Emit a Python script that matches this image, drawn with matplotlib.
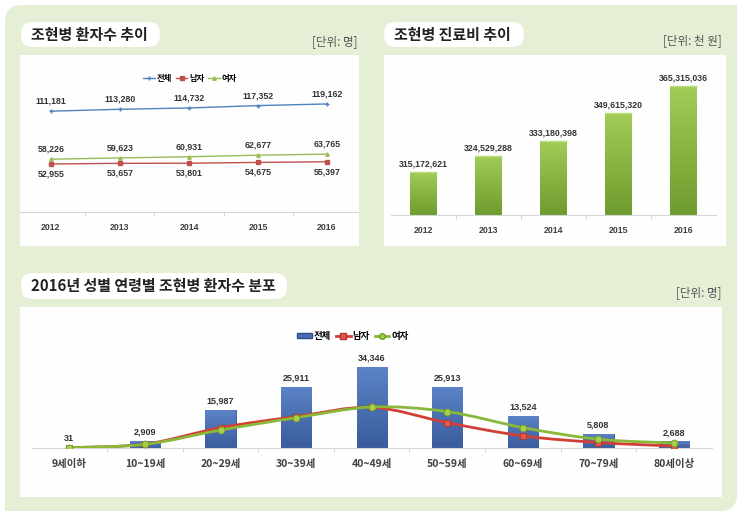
import numpy as np
import matplotlib
matplotlib.use("Agg")
import matplotlib.pyplot as plt
from matplotlib.patches import FancyBboxPatch, Rectangle, PathPatch, Patch
from matplotlib.path import Path
from matplotlib.lines import Line2D

plt.rcParams['font.family'] = ['Noto Sans CJK KR', 'DejaVu Sans']

# ---- data ----
years = ['2012', '2013', '2014', '2015', '2016']
patients_total = [111181, 113280, 114732, 117352, 119162]
patients_male = [52955, 53657, 53801, 54675, 55397]
patients_female = [58226, 59623, 60931, 62677, 63765]

cost = [315172621, 324529288, 333180398, 349615320, 365315036]
cost_base = 290000000  # bar axis does not start at zero

age_groups = ['9세이하', '10~19세', '20~29세', '30~39세', '40~49세',
              '50~59세', '60~69세', '70~79세', '80세이상']
age_total = [31, 2909, 15987, 25911, 34346, 25913, 13524, 5808, 2688]
age_male = [15, 1500, 8500, 13200, 17100, 10600, 5000, 2200, 700]
age_female = [16, 1409, 7487, 12711, 17246, 15313, 8524, 3608, 1988]

W, H = 743, 516
BG = '#e5efd6'
NUM = ['Liberation Sans', 'DejaVu Sans']
TXT = '#333333'


def px(x0, y0, x1, y1):
    return [x0 / W, 1 - y1 / H, (x1 - x0) / W, (y1 - y0) / H]


def smooth(xs, ys):
    pts = list(zip(xs, ys))
    verts, codes = [pts[0]], [Path.MOVETO]
    for i in range(len(pts) - 1):
        p0 = pts[i - 1] if i > 0 else pts[i]
        p1, p2 = pts[i], pts[i + 1]
        p3 = pts[i + 2] if i + 2 < len(pts) else p2
        c1 = (p1[0] + (p2[0] - p0[0]) / 6, p1[1] + (p2[1] - p0[1]) / 6)
        c2 = (p2[0] - (p3[0] - p1[0]) / 6, p2[1] - (p3[1] - p1[1]) / 6)
        verts += [c1, c2, p2]
        codes += [Path.CURVE4] * 3
    return Path(verts, codes)


def gradient_bars(ax, bars, top, bottom):
    grad = np.linspace(0, 1, 64).reshape(-1, 1)
    c0, c1 = np.array(matplotlib.colors.to_rgb(top)), np.array(matplotlib.colors.to_rgb(bottom))
    img = c0 + (c1 - c0) * grad[:, :, None]
    for b in bars:
        x0, y0 = b.get_x(), b.get_y()
        im = ax.imshow(img, extent=[x0, x0 + b.get_width(), y0, y0 + b.get_height()],
                       origin='upper', aspect='auto', zorder=b.get_zorder(), interpolation='bilinear')
        im.set_clip_path(b)


fig = plt.figure(figsize=(W / 100, H / 100), dpi=100)
bg = fig.add_axes([0, 0, 1, 1])
bg.set_xlim(0, W)
bg.set_ylim(H, 0)
bg.axis('off')

# green panel (rounded top-left and bottom-right)
bg.add_patch(FancyBboxPatch((5, 5), 732, 506, boxstyle='round,pad=0,rounding_size=17',
                            fc=BG, ec='none'))
bg.add_patch(Rectangle((700, 5), 37, 40, fc=BG, ec='none'))
bg.add_patch(Rectangle((5, 470), 40, 41, fc=BG, ec='none'))

# white plot areas
for x0, y0, x1, y1 in [(20, 55, 359, 246), (384, 55, 726, 246), (20, 307, 722, 497)]:
    bg.add_patch(Rectangle((x0, y0), x1 - x0, y1 - y0, fc='#fefefe', ec='none'))

# title pills
for x0, y0, x1, y1, title in [(21, 22, 160, 47, '조현병 환자수 추이'),
                              (384, 22, 524, 47, '조현병 진료비 추이'),
                              (21, 273, 287, 299, '2016년 성별 연령별 조현병 환자수 분포')]:
    bg.add_patch(FancyBboxPatch((x0, y0), x1 - x0, y1 - y0,
                                boxstyle='round,pad=0,rounding_size=12', fc='white', ec='none'))
    bg.text(x0 + 10, (y0 + y1) / 2 + 0.5, title, fontsize=10.8, weight='bold',
            color='#222222', ha='left', va='center')

for x, y, s in [(358, 42, '[단위: 명]'), (722, 42, '[단위: 천 원]'), (722, 293, '[단위: 명]')]:
    bg.text(x, y, s, fontsize=8.3, color='#555555', ha='right', va='center')

# ---- top-left: patients trend ----
ax1 = fig.add_axes(px(20, 70, 358, 212))
ax1.set_facecolor('none')
xi = np.arange(len(years))
ax1.plot(xi, patients_total, color='#4f81bd', lw=1.0, marker='+', ms=3, mew=1, label='전체')
ax1.plot(xi, patients_male, color='#c0504d', lw=1.0, marker='s', ms=2.5, label='남자')
ax1.plot(xi, patients_female, color='#9bbb59', lw=1.0, marker='^', ms=2.5, label='여자')
for i in xi:
    ax1.annotate(f'{patients_total[i]:,}', (i, patients_total[i]), xytext=(0, 4),
                 textcoords='offset points', ha='center', va='bottom', fontsize=6.3,
                 weight='bold', family=NUM, color=TXT)
    ax1.annotate(f'{patients_female[i]:,}', (i, patients_female[i]), xytext=(0, 4),
                 textcoords='offset points', ha='center', va='bottom', fontsize=6.3,
                 weight='bold', family=NUM, color=TXT)
    ax1.annotate(f'{patients_male[i]:,}', (i, patients_male[i]), xytext=(0, -4),
                 textcoords='offset points', ha='center', va='top', fontsize=6.3,
                 weight='bold', family=NUM, color=TXT)
ax1.set_xlim(-0.449, 4.449)
ax1.set_ylim(0, 156600)
ax1.legend(loc='center', bbox_to_anchor=(190 / W, 1 - 78 / H), bbox_transform=fig.transFigure,
           ncol=3, frameon=False, handlelength=1.4, handletextpad=0.2,
           columnspacing=0.5, prop={'weight': 'bold', 'size': 6})

# ---- top-right: cost bars ----
ax2 = fig.add_axes(px(391, 70, 716, 215))
ax2.set_facecolor('none')
bars2 = ax2.bar(xi, [c - cost_base for c in cost], bottom=cost_base, width=0.41,
                color='#8cbc3f', zorder=2)
gradient_bars(ax2, bars2, '#a3cc58', '#6f9c2e')
for i, b in enumerate(bars2):
    ax2.plot([b.get_x(), b.get_x() + b.get_width()], [cost[i], cost[i]], color='#b9e07a',
             lw=1, zorder=3, solid_capstyle='butt')
    ax2.annotate(f'{cost[i]:,}', (i, cost[i]), xytext=(0, 2.5), textcoords='offset points',
                 ha='center', va='bottom', fontsize=6.3, weight='bold', family=NUM, color=TXT)
ax2.set_xlim(-0.5, 4.5)
ax2.set_ylim(cost_base, 374500000)

# ---- bottom: age distribution ----
ax3 = fig.add_axes(px(31.6, 322, 711.8, 447.7))
ax3.set_facecolor('none')
xa = np.arange(len(age_groups))
bars3 = ax3.bar(xa, age_total, width=0.40, color='#4a6fb0', edgecolor='#2f4e8a', lw=0.6, zorder=2)
gradient_bars(ax3, bars3, '#5b83c6', '#3a5c9c')
for i, b in enumerate(bars3):
    ax3.annotate(f'{age_total[i]:,}', (i, age_total[i]), xytext=(0, 3), textcoords='offset points',
                 ha='center', va='bottom', fontsize=6.5, weight='bold', family=NUM, color=TXT)
ax3.add_patch(PathPatch(smooth(xa, age_male), fill=False, ec='#d23f36', lw=2.0, zorder=4,
                        capstyle='round'))
ax3.plot(xa, age_male, ls='none', marker='s', ms=5, mfc='#e0584e', mec='#b83028', mew=0.6, zorder=5)
ax3.add_patch(PathPatch(smooth(xa, age_female), fill=False, ec='#8ab838', lw=2.0, zorder=6,
                        capstyle='round'))
ax3.plot(xa, age_female, ls='none', marker='o', ms=5, mfc='#a6d04a', mec='#6e9a26', mew=0.6, zorder=7)
ax3.set_xlim(-0.5, 8.5)
ax3.set_ylim(0, 53300)
handles = [Patch(fc='#4a6fb0', ec='#2f4e8a'),
           Line2D([], [], color='#d23f36', lw=2, marker='s', ms=4, mfc='#e0584e', mec='#b83028'),
           Line2D([], [], color='#8ab838', lw=2, marker='o', ms=4, mfc='#a6d04a', mec='#6e9a26')]
fig.legend(handles, ['전체', '남자', '여자'], loc='center',
           bbox_to_anchor=(353 / W, 1 - 336 / H), ncol=3, frameon=False,
           handlelength=1.5, handleheight=0.5, handletextpad=0.2, columnspacing=0.6,
           prop={'weight': 'bold', 'size': 6.8})

# shared axis styling
for ax, n, labels in [(ax1, 5, years), (ax2, 5, years), (ax3, 9, age_groups)]:
    for s in ['top', 'right', 'left']:
        ax.spines[s].set_visible(False)
    ax.spines['bottom'].set_color('#d6d6d6')
    ax.spines['bottom'].set_linewidth(0.8)
    ax.set_yticks([])
    ax.set_xticks(range(n))
    ax.set_xticks(np.arange(0.5, n - 1, 1), minor=True)
    ax.tick_params(axis='x', which='major', length=0, pad=8)
    ax.tick_params(axis='x', which='minor', length=3, color='#d0d0d0', direction='out')
    if ax is ax3:
        ax.set_xticklabels(labels, fontsize=7.5, weight='bold', color='#404040')
    else:
        ax.set_xticklabels(labels, fontsize=6.3, weight='bold', color='#404040', family=NUM)

fig.savefig('out.png', dpi=100)
